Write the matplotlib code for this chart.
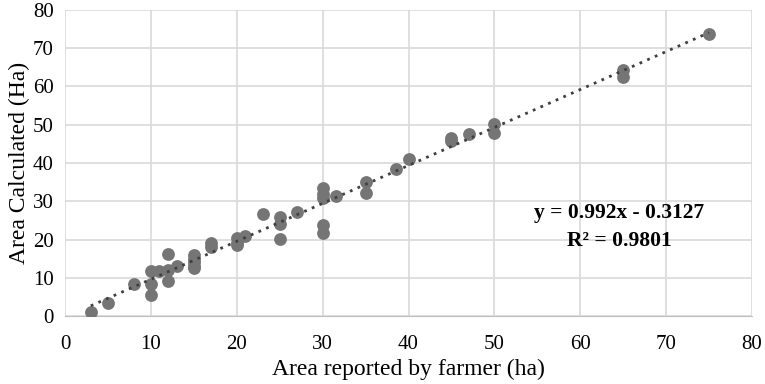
import matplotlib
matplotlib.use('Agg')
import matplotlib.pyplot as plt
import numpy as np

# area reported by farmer (ha) vs area calculated (ha)
reported = [3, 5, 8, 10, 10, 10, 11, 12, 12, 12, 13, 15, 15, 15, 15, 15,
            17, 17, 20, 20, 20, 21, 23, 25, 25, 25, 27, 30, 30, 30, 30, 30,
            31.5, 35, 35, 38.5, 40, 45, 45, 47, 50, 50, 65, 65, 75]
calculated = [1, 3.3, 8.3, 11.7, 8.5, 5.5, 11.8, 16.2, 12, 9.2, 13.2, 16, 15, 14, 13, 12.5,
              19, 18, 20.3, 19, 18.5, 21, 26.8, 25.8, 24, 20.2, 27.2, 33.5, 32, 30.8, 23.8, 21.8,
              31.5, 35, 32.2, 38.5, 41, 46.6, 45.8, 47.7, 50.1, 47.8, 64.3, 62.6, 73.8]

slope = 0.992
intercept = -0.3127
r2 = 0.9801

plt.rcParams['font.family'] = ['Liberation Serif', 'DejaVu Serif']

fig = plt.figure(figsize=(7.65, 3.84), dpi=100)
ax = fig.add_axes([0.085, 0.177, 0.898, 0.797])

ax.scatter(reported, calculated, s=85, color='#757575', zorder=3, linewidths=0)

xs = np.array([min(reported), max(reported)])
ax.plot(xs, slope * xs + intercept, linestyle=(0, (1, 2)), color='#404040', linewidth=2, zorder=4)

ax.set_xlim(0, 80)
ax.set_ylim(0, 80)
ax.set_xticks(range(0, 81, 10))
ax.set_yticks(range(0, 81, 10))
ax.grid(True, color='#d9d9d9', linewidth=1.2)
ax.set_axisbelow(True)
for s in ['top', 'right', 'left']:
    ax.spines[s].set_visible(False)
ax.spines['bottom'].set_color('#bfbfbf')
ax.tick_params(length=0, labelsize=15)
ax.tick_params(axis='x', pad=14)
ax.tick_params(axis='y', pad=8)

ax.set_xlabel('Area reported by farmer (ha)', fontsize=17, labelpad=3)
ax.set_ylabel('Area Calculated (Ha)', fontsize=17, labelpad=2)

ax.text(64.5, 27, 'y = 0.992x - 0.3127', fontsize=15.5, fontweight='bold', ha='center', va='center')
ax.text(64.5, 19.7, 'R² = 0.9801', fontsize=15.5, fontweight='bold', ha='center', va='center')

fig.savefig('out.png', dpi=100)
